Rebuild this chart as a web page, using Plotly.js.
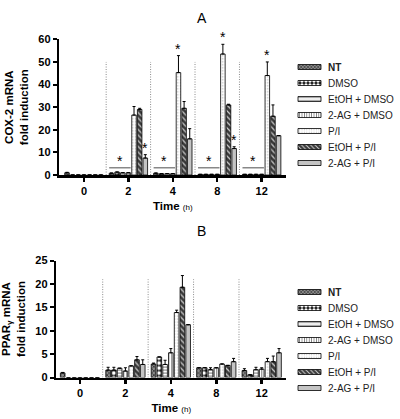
<!DOCTYPE html>
<html><head><meta charset="utf-8">
<script src="https://cdn.plot.ly/plotly-3.0.1.min.js"></script>
<style>html,body{margin:0;padding:0;background:#fff}#chart{width:400px;height:419px}</style>
</head><body><div id="chart"></div>
<script>
// ---------- data ----------
const timeLabels = ["0", "2", "4", "8", "12"];
const seriesNames = ["NT", "DMSO", "EtOH + DMSO", "2-AG + DMSO", "P/I", "EtOH + P/I", "2-AG + P/I"];

// Panel A: COX-2 mRNA fold induction
const coxNT       = [1.0, 0.8, 0.8, 0.3, 0.3];
const coxDMSO     = [0, 1.3, 0.6, 0.3, 0.3];
const coxEtOHDMSO = [0, 1.0, 0.6, 0.3, 0.3];
const cox2AGDMSO  = [0, 1.0, 0.6, 0.3, 0.3];
const coxPI       = [0, 26.5, 45.3, 53.5, 44.0];
const coxEtOHPI   = [0, 29.0, 29.5, 31.0, 26.0];
const cox2AGPI    = [0, 7.5, 16.0, 11.7, 17.4];
const coxErrNT       = [0.2, 0.1, 0.1, 0, 0];
const coxErrDMSO     = [0, 0, 0, 0, 0];
const coxErrEtOHDMSO = [0, 0, 0, 0, 0];
const coxErr2AGDMSO  = [0, 0, 0, 0, 0];
const coxErrPI       = [0, 3.8, 7.5, 4.3, 6.0];
const coxErrEtOHPI   = [0, 0.5, 3.0, 0.3, 5.0];
const coxErr2AGPI    = [0, 1.5, 4.5, 0.8, 0];
// significance: single-bar stars (time index, series index) and bracket over control bars
const coxStarTime   = [1, 2, 3, 3, 4];
const coxStarSeries = [6, 4, 4, 6, 4];
const coxBracketTimes = [1, 2, 3, 4];

// Panel B: PPARγ mRNA fold induction
const pparNT       = [1.0, 1.6, 2.9, 2.1, 1.5];
const pparDMSO     = [0, 1.6, 4.4, 2.1, 0.6];
const pparEtOHDMSO = [0, 2.0, 2.8, 1.7, 1.7];
const ppar2AGDMSO  = [0, 1.4, 5.3, 2.1, 1.8];
const pparPI       = [0, 2.5, 13.9, 2.9, 3.4];
const pparEtOHPI   = [0, 3.8, 19.3, 2.6, 3.4];
const ppar2AGPI    = [0, 2.8, 11.3, 3.4, 5.3];
const pparErrNT       = [0.1, 0.6, 0.2, 0, 0.4];
const pparErrDMSO     = [0, 0.6, 0, 0, 0];
const pparErrEtOHDMSO = [0, 0, 0.9, 0.4, 0.5];
const pparErr2AGDMSO  = [0, 0.7, 0.9, 0, 0.3];
const pparErrPI       = [0, 0, 0.5, 0, 0.7];
const pparErrEtOHPI   = [0, 0.7, 2.5, 0, 1.2];
const pparErr2AGPI    = [0, 1.0, 0, 0.7, 0.9];

const coxVals = [coxNT, coxDMSO, coxEtOHDMSO, cox2AGDMSO, coxPI, coxEtOHPI, cox2AGPI];
const coxErrs = [coxErrNT, coxErrDMSO, coxErrEtOHDMSO, coxErr2AGDMSO, coxErrPI, coxErrEtOHPI, coxErr2AGPI];
const pparVals = [pparNT, pparDMSO, pparEtOHDMSO, ppar2AGDMSO, pparPI, pparEtOHPI, ppar2AGPI];
const pparErrs = [pparErrNT, pparErrDMSO, pparErrEtOHDMSO, pparErr2AGDMSO, pparErrPI, pparErrEtOHPI, pparErr2AGPI];

// ---------- styles ----------
const patterns = [
  {shape: "x", bgcolor: "#8a8a8a", fgcolor: "#2a2a2a", size: 3, solidity: 0.4},
  {shape: ".", bgcolor: "#111111", fgcolor: "#ffffff", size: 5, solidity: 0.55},
  {shape: "-", bgcolor: "#ffffff", fgcolor: "#777777", size: 3, solidity: 0.35},
  {shape: "|", bgcolor: "#ffffff", fgcolor: "#777777", size: 3, solidity: 0.35},
  {shape: ".", bgcolor: "#ffffff", fgcolor: "#bbbbbb", size: 3, solidity: 0.2},
  {shape: "\\", bgcolor: "#3a3a3a", fgcolor: "#cfcfcf", size: 4, solidity: 0.3},
  {shape: "", bgcolor: "#c4c4c4", fgcolor: "#c4c4c4", size: 4, solidity: 0.3}
];
const FONT = "'Liberation Sans', Arial, sans-serif";
const pitch = 0.127, barW = 0.102;
const groupPos = timeLabels.map((t, i) => i);
const barX = (g, k) => g + (k - 3) * pitch;

const traces = [];
function addPanel(vals, errs, xa, ya, legendName) {
  vals.forEach((v, k) => {
    traces.push({
      type: "bar", name: k === 0 ? "<b>NT</b>" : seriesNames[k],
      x: groupPos.map(g => barX(g, k)), y: v, width: barW,
      xaxis: xa, yaxis: ya, legend: legendName,
      marker: {color: patterns[k].bgcolor, line: {color: "#000", width: 0.8},
               pattern: patterns[k].shape ? patterns[k] : undefined},
      error_y: {type: "data", symmetric: false, array: errs[k], arrayminus: v.map(() => 0),
                color: "#000", thickness: 1, width: 1.5, visible: true},
      hoverinfo: "skip"
    });
  });
}
addPanel(coxVals, coxErrs, "x", "y", "legend");
addPanel(pparVals, pparErrs, "x2", "y2", "legend2");

// stars above significant bars
const bracketLevel = 3.2;
const starAnn = [];
coxStarTime.forEach((g, i) => {
  const k = coxStarSeries[i];
  starAnn.push({x: barX(g, k), y: coxVals[k][g] + coxErrs[k][g]});
});
coxBracketTimes.forEach(g => starAnn.push({x: (barX(g, 0) + barX(g, 3)) / 2, y: bracketLevel}));

const shapes = [];
[0.5, 1.5, 2.5, 3.5].forEach(b => {
  shapes.push({type: "line", xref: "x", yref: "y", x0: b, x1: b, y0: 0, y1: 50, line: {color: "#8a8a8a", width: 1, dash: "1px,1.5px"}});
  shapes.push({type: "line", xref: "x2", yref: "y2", x0: b, x1: b, y0: 0, y1: 21, line: {color: "#8a8a8a", width: 1, dash: "1px,1.5px"}});
});
coxBracketTimes.forEach(g => {
  shapes.push({type: "line", xref: "x", yref: "y", x0: barX(g, 0) - barW / 2, x1: barX(g, 3) + barW / 2,
    y0: bracketLevel, y1: bracketLevel, line: {color: "#888", width: 1.5}});
});

const W = 400, H = 419;
const px = p => p / W, py = p => 1 - p / H;
const tickF = {family: FONT, size: 11, color: "#000", weight: "bold"};
const xCommon = {
  tickmode: "array", tickvals: groupPos, ticktext: timeLabels, showgrid: false, zeroline: false,
  showline: true, linecolor: "#000", linewidth: 2.5, ticks: "outside", ticklen: 4, tickwidth: 2.5, tickcolor: "#000",
  tickfont: tickF, fixedrange: true,
  title: {text: "<b>Time</b> <span style='font-size:8px'>(h)</span>", font: {family: FONT, size: 11.5, color: "#000"}, standoff: 6}
};
const yCommon = {
  showgrid: false, zeroline: false, showline: true, linecolor: "#000", linewidth: 2.5,
  ticks: "outside", ticklen: 4, tickwidth: 2, tickcolor: "#000", tickfont: tickF, fixedrange: true
};
const legendCommon = {font: {family: FONT, size: 10, color: "#222"}, bgcolor: "rgba(0,0,0,0)",
  xanchor: "left", yanchor: "top", tracegroupgap: 0, itemclick: false, itemdoubleclick: false};

const annotations = [
  {text: "A", xref: "paper", yref: "paper", x: px(205), y: py(8), showarrow: false, font: {family: FONT, size: 14, color: "#000"}},
  {text: "B", xref: "paper", yref: "paper", x: px(204), y: py(235), showarrow: false, font: {family: FONT, size: 14, color: "#000"}}
];
starAnn.forEach(s => annotations.push({text: "*", xref: "x", yref: "y", x: s.x, y: s.y, yanchor: "bottom", yshift: -3,
  showarrow: false, font: {family: FONT, size: 14, color: "#000"}}));

const layout = {
  width: W, height: H, margin: {l: 0, r: 0, t: 0, b: 0}, paper_bgcolor: "#fff", plot_bgcolor: "#fff",
  barmode: "overlay", showlegend: true,
  xaxis: Object.assign({}, xCommon, {domain: [px(60), px(290)], range: [-0.556, 4.556], anchor: "y"}),
  yaxis: Object.assign({}, yCommon, {domain: [py(178), py(40)], range: [0, 60], dtick: 10, anchor: "x",
    title: {text: "<b>COX-2 mRNA<br>fold induction</b>", font: {family: FONT, size: 11.5, color: "#000"}, standoff: 8}}),
  xaxis2: Object.assign({}, xCommon, {domain: [px(57), px(290)], range: [-0.522, 4.543], anchor: "y2"}),
  yaxis2: Object.assign({}, yCommon, {domain: [py(384), py(265)], range: [0, 25], dtick: 5, anchor: "x2",
    title: {text: "<b>PPAR<sub>γ</sub> mRNA<br>fold induction</b>", font: {family: FONT, size: 11.5, color: "#000"}, standoff: 8}}),
  legend: Object.assign({}, legendCommon, {x: px(292), y: py(56)}),
  legend2: Object.assign({}, legendCommon, {x: px(292), y: py(281)}),
  shapes: shapes,
  annotations: annotations
};

function tidyLegend(g, firstY) {
  if (!g) return;
  g.querySelectorAll("g.traces").forEach((item, i) => {
    const path = item.querySelector(".legendpoints path");
    if (!path) return;
    path.setAttribute("d", "M-10,-2.5H13V2.5H-10Z");
    const r = path.getBoundingClientRect();
    const cy = r.top + r.height / 2;
    const m = /translate\(\s*([-\d.e]+)[\s,]*([-\d.e]+)?\s*\)/.exec(item.getAttribute("transform") || "translate(0,0)");
    const tx = m ? parseFloat(m[1]) : 0, ty = m && m[2] ? parseFloat(m[2]) : 0;
    item.setAttribute("transform", "translate(" + tx + "," + (ty + firstY + 16 * i - cy) + ")");
  });
}

Plotly.newPlot("chart", traces, layout, {displayModeBar: false, staticPlot: true}).then(() => {
  const groups = Array.from(document.querySelectorAll(".infolayer > g")).filter(g => /(^|\s)legend2?(\s|$)/.test(g.getAttribute("class") || ""));
  const l1 = groups.find(g => /(^|\s)legend(\s|$)/.test(g.getAttribute("class")));
  const l2 = groups.find(g => /(^|\s)legend2(\s|$)/.test(g.getAttribute("class")));
  tidyLegend(l1, 67);
  tidyLegend(l2, 292);
});
</script></body></html>
